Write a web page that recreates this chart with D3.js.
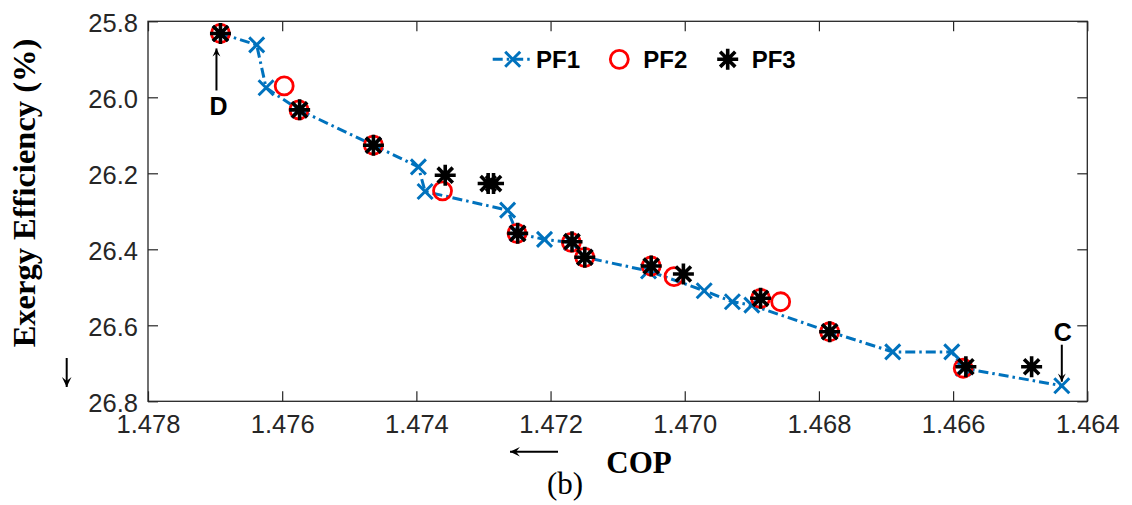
<!DOCTYPE html>
<html><head><meta charset="utf-8">
<script src="https://cdn.jsdelivr.net/npm/d3@7"></script>
<style>
html,body{margin:0;padding:0;background:#fff;}
svg{display:block;}
</style>
</head><body>
<svg id="chart" width="1132" height="505"></svg>
<script>
// ---- data ----
const pf1COP = [1.47692,1.47638,1.47624,1.47575,1.47464,1.47397,1.47387,1.47264,1.47250,1.47209,1.47169,1.47149,1.47054,1.46971,1.46929,1.46900,1.46784,1.46690,1.46602,1.46585,1.46438];
const pf1Ex  = [25.832,25.862,25.975,26.033,26.126,26.183,26.248,26.297,26.358,26.374,26.382,26.421,26.457,26.509,26.538,26.547,26.617,26.670,26.670,26.713,26.759];
const pf2COP = [1.47692,1.47597,1.47575,1.47464,1.47361,1.47250,1.47169,1.47149,1.47050,1.47016,1.46887,1.46857,1.46784,1.46585];
const pf2Ex  = [25.832,25.970,26.033,26.126,26.246,26.358,26.382,26.421,26.444,26.472,26.529,26.538,26.617,26.713];
const pf3COP = [1.47692,1.47574,1.47464,1.47357,1.47293,1.47285,1.47249,1.47168,1.47149,1.47050,1.47002,1.46887,1.46784,1.46581,1.46483];
const pf3Ex  = [25.832,26.033,26.126,26.205,26.227,26.227,26.358,26.380,26.421,26.444,26.465,26.529,26.617,26.709,26.709];
const xTicks = [1.478,1.476,1.474,1.472,1.470,1.468,1.466,1.464];
const yTicks = [25.8,26.0,26.2,26.4,26.6,26.8];
const seriesNames = ["PF1","PF2","PF3"];
const pointD = {cop:1.47692, ex:25.832, label:"D"};
const pointC = {cop:1.46438, ex:26.759, label:"C"};

// ---- layout ----
const L = 148, R = 1087.3, T = 21.3, B = 401.3;
const svg = d3.select("#chart");
const x = d3.scaleLinear().domain([1.478,1.464]).range([L,R]);
const y = d3.scaleLinear().domain([25.8,26.8]).range([T,B]);
const axisColor = "#262626";
const blue = "#0072BD";

// ticks (inside, all four sides)
const tickLen = 10;
const axB = svg.append("g").attr("transform",`translate(0,${B})`)
  .call(d3.axisBottom(x).tickValues(xTicks).tickSizeInner(-tickLen).tickSizeOuter(0).tickFormat(d3.format(".3f")));
const axT = svg.append("g").attr("transform",`translate(0,${T})`)
  .call(d3.axisTop(x).tickValues(xTicks).tickSizeInner(-tickLen).tickSizeOuter(0).tickFormat(""));
const axL = svg.append("g").attr("transform",`translate(${L},0)`)
  .call(d3.axisLeft(y).tickValues(yTicks).tickSizeInner(-tickLen).tickSizeOuter(0).tickPadding(9.5).tickFormat(d3.format(".1f")));
const axR = svg.append("g").attr("transform",`translate(${R},0)`)
  .call(d3.axisRight(y).tickValues(yTicks).tickSizeInner(-tickLen).tickSizeOuter(0).tickFormat(""));
[axB,axT,axL,axR].forEach(a=>{
  a.select(".domain").remove();
  a.selectAll("line").attr("stroke",axisColor).attr("stroke-width",1.2);
  a.selectAll("text").attr("fill",axisColor).attr("font-family","Liberation Sans, Arial, sans-serif").attr("font-size",25.5);
});
axB.selectAll("text").attr("dy",null).attr("y",31.6);
axL.selectAll("text").attr("dy",null).attr("x",-10).attr("y",10.3);
svg.append("rect").attr("x",L).attr("y",T).attr("width",R-L).attr("height",B-T)
  .attr("fill","none").attr("stroke",axisColor).attr("stroke-width",1.3);

// ---- markers ----
function xMarker(g, s){ g.append("path").attr("d",`M${-s},${-s}L${s},${s}M${-s},${s}L${s},${-s}`)
  .attr("stroke",blue).attr("stroke-width",3).attr("fill","none"); }
function circleMarker(g, r){ g.append("circle").attr("r",r).attr("fill","none").attr("stroke","#FF0000").attr("stroke-width",2.8); }
function starMarker(g, s){
  const d = s*0.72;
  g.append("path").attr("d",`M${-s},0L${s},0M0,${-s}L0,${s}M${-d},${-d}L${d},${d}M${-d},${d}L${d},${-d}`)
   .attr("stroke","#000").attr("stroke-width",3.6).attr("fill","none");
}

const pf1 = pf1COP.map((c,i)=>({c, e:pf1Ex[i]}));
const pf2 = pf2COP.map((c,i)=>({c, e:pf2Ex[i]}));
const pf3 = pf3COP.map((c,i)=>({c, e:pf3Ex[i]}));

const line = d3.line().x(d=>x(d.c)).y(d=>y(d.e));
svg.append("path").datum(pf1).attr("d",line).attr("fill","none")
  .attr("stroke",blue).attr("stroke-width",3).attr("stroke-dasharray","10,4,2.5,4");
svg.append("g").selectAll("g").data(pf1).join("g")
  .attr("transform",d=>`translate(${x(d.c)},${y(d.e)})`).each(function(){ xMarker(d3.select(this),7.5); });
svg.append("g").selectAll("g").data(pf2).join("g")
  .attr("transform",d=>`translate(${x(d.c)},${y(d.e)})`).each(function(){ circleMarker(d3.select(this),9); });
svg.append("g").selectAll("g").data(pf3).join("g")
  .attr("transform",d=>`translate(${x(d.c)},${y(d.e)})`).each(function(){ starMarker(d3.select(this),10.5); });

// ---- legend ----
const lgY = 59.3;
const lg = svg.append("g");
lg.append("line").attr("x1",492.7).attr("x2",530).attr("y1",lgY).attr("y2",lgY)
  .attr("stroke",blue).attr("stroke-width",3).attr("stroke-dasharray","10,4,2.5,4");
xMarker(lg.append("g").attr("transform",`translate(512.7,${lgY})`),7.5);
circleMarker(lg.append("g").attr("transform",`translate(619.3,${lgY})`),9);
starMarker(lg.append("g").attr("transform",`translate(727.7,${lgY})`),10.5);
const lgTextX = [536, 643.3, 751.7];
seriesNames.forEach((n,i)=>{
  lg.append("text").attr("x",lgTextX[i]).attr("y",lgY+8.8).text(n)
    .attr("font-family","Liberation Sans, Arial, sans-serif").attr("font-weight","bold").attr("font-size",24).attr("fill","#000");
});

// ---- annotations ----
function arrow(x1,y1,x2,y2,head){
  svg.append("line").attr("x1",x1).attr("y1",y1).attr("x2",x2).attr("y2",y2).attr("stroke","#000").attr("stroke-width",2);
  const ang = Math.atan2(y2-y1,x2-x1), h=head||9, w=0.45;
  const p = [[x2,y2],[x2-h*Math.cos(ang-w),y2-h*Math.sin(ang-w)],[x2-h*0.55*Math.cos(ang),y2-h*0.55*Math.sin(ang)],[x2-h*Math.cos(ang+w),y2-h*Math.sin(ang+w)]];
  svg.append("path").attr("d","M"+p.map(q=>q.join(",")).join("L")+"Z").attr("fill","#000");
}
const dx = x(pointD.cop)-4, dy = y(pointD.ex);
arrow(dx, dy+57, dx, dy+15);
svg.append("text").attr("x",dx+2).attr("y",dy+82).attr("text-anchor","middle").text(pointD.label)
  .attr("font-family","Liberation Sans, Arial, sans-serif").attr("font-weight","bold").attr("font-size",25);
const cx = x(pointC.cop), cy = y(pointC.ex);
arrow(cx, cy-41, cx, cy-4);
svg.append("text").attr("x",cx+1).attr("y",cy-45).attr("text-anchor","middle").text(pointC.label)
  .attr("font-family","Liberation Sans, Arial, sans-serif").attr("font-weight","bold").attr("font-size",25);

// axis titles
svg.append("text").attr("transform",`translate(34.5,193) rotate(-90)`).attr("text-anchor","middle")
  .text("Exergy Efficiency (%)").attr("font-family","Liberation Serif, Times New Roman, serif")
  .attr("font-weight","bold").attr("font-size",32.5).attr("fill","#000");
svg.append("text").attr("x",639).attr("y",473).attr("text-anchor","middle").text("COP")
  .attr("font-family","Liberation Serif, Times New Roman, serif").attr("font-weight","bold").attr("font-size",31).attr("fill","#000");
svg.append("text").attr("x",565).attr("y",494).attr("text-anchor","middle").text("(b)")
  .attr("font-family","Liberation Serif, Times New Roman, serif").attr("font-size",31).attr("fill","#000");
arrow(558, 451.7, 510, 451.7, 11);
arrow(66.7, 358, 66.7, 387, 11);
</script>
</body></html>
